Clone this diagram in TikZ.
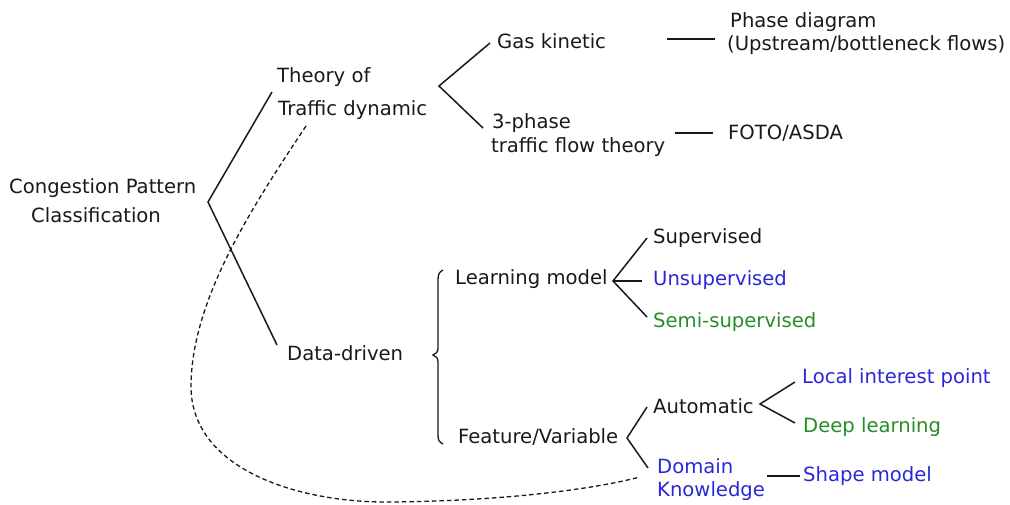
\documentclass[tikz,border=0pt]{standalone}
\usepackage{fontspec}
\setmainfont{DejaVu Sans}
\definecolor{txt}{RGB}{25,25,25}
\definecolor{bluet}{RGB}{40,40,215}
\definecolor{greent}{RGB}{40,140,40}
\tikzset{
  lbl/.style={anchor=base west, inner sep=0pt, text=txt, font=\fontsize{19.6}{22}\selectfont},
  blu/.style={lbl, text=bluet},
  grn/.style={lbl, text=greent},
  br/.style={line width=1.5pt, draw=txt},
  dsh/.style={line width=1.3pt, draw=txt, dash pattern=on 4.5pt off 3pt}
}
\begin{document}
\begin{tikzpicture}[x=1pt,y=-1pt]
\useasboundingbox (0,0) rectangle (1010,504);
% texts
\node[lbl] (cong1) at (9,193) {Congestion Pattern};
\node[lbl] (cong2) at (31,222) {Classification};
\node[lbl] (th1) at (277,82) {Theory of};
\node[lbl] (th2) at (278,115) {Traffic dynamic};
\node[lbl] (dd) at (287,360) {Data-driven};
\node[lbl] (gas) at (497,48) {Gas kinetic};
\node[lbl] (ph1) at (492,128) {3-phase};
\node[lbl] (ph2) at (491,152) {traffic flow theory};
\node[lbl] (pd1) at (730,27) {Phase diagram};
\node[lbl] (pd2) at (727,50) {(Upstream/bottleneck flows)};
\node[lbl] (foto) at (728,139) {FOTO/ASDA};
\node[lbl] (lm) at (455,284) {Learning model};
\node[lbl] (sup) at (653,243) {Supervised};
\node[blu] (uns) at (653,285) {Unsupervised};
\node[grn] (semi) at (653,327) {Semi-supervised};
\node[lbl] (fv) at (458,443) {Feature/Variable};
\node[lbl] (auto) at (653,413) {Automatic};
\node[blu] (dk1) at (657,473) {Domain};
\node[blu] (dk2) at (657,496) {Knowledge};
\node[blu] (lip) at (802,383) {Local interest point};
\node[grn] (deep) at (803,432) {Deep learning};
\node[blu] (shape) at (803,481) {Shape model};
% branch points
\coordinate (rv) at (208,202);
\coordinate (rt) at (272,92);
\coordinate (rb) at (277,345);
\coordinate (tv) at (439,86);
\coordinate (tt) at (490,43);
\coordinate (tb) at (483,128);
\coordinate (lv) at (613,281);
\coordinate (fvv) at (627,438);
\coordinate (av) at (760,404);
% connectors
\draw[br] (rt) -- (rv) -- (rb);
\draw[br] (tt) -- (tv) -- (tb);
\draw[br] (667,39) -- (715,39);
\draw[br] (675,133) -- (713,133);
\draw[br] (647,238) -- (lv) -- (647,317);
\draw[br] (lv) -- (642,281);
\draw[br] (647,407) -- (fvv) -- (648,468);
\draw[br] (795,382) -- (av) -- (795,423);
\draw[br] (767,476) -- (800,476);
% brace
\draw[br, line width=1.3pt] (443,270) .. controls (439,272) and (438,275) .. (438,280)
  -- (438,348) .. controls (438,352) and (436,354) .. (433,355)
  .. controls (436,356) and (438,358) .. (438,362)
  -- (438,435) .. controls (438,440) and (439,442) .. (443,444);
% dashed relation
\draw[dsh] (306,126) .. controls (250,210) and (192,300) .. (191,385)
  .. controls (190,470) and (300,503) .. (390,502)
  .. controls (500,501) and (590,490) .. (640,477);
\end{tikzpicture}
\end{document}
